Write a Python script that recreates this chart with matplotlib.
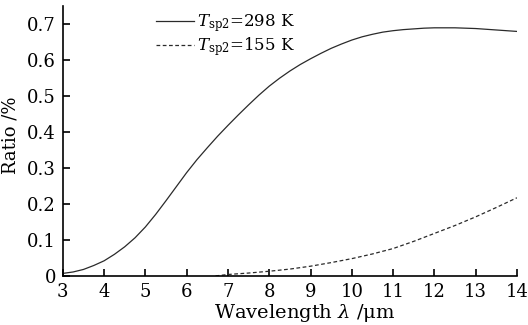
import matplotlib
matplotlib.use('Agg')
import matplotlib.pyplot as plt

# ratio curves for the two temperatures
wl_298 = [3.0, 3.25, 3.5, 3.75, 4.0, 4.25, 4.5, 4.75, 5.0, 5.25, 5.5, 5.75,
          6.0, 6.25, 6.5, 6.75, 7.0, 7.25, 7.5, 7.75, 8.0, 8.25, 8.5, 8.75,
          9.0, 9.25, 9.5, 9.75, 10.0, 10.25, 10.5, 10.75, 11.0, 11.25, 11.5,
          11.75, 12.0, 12.25, 12.5, 12.75, 13.0, 13.25, 13.5, 13.75, 14.0]
ratio_298 = [0.007, 0.011, 0.018, 0.029, 0.042, 0.060, 0.081, 0.106, 0.136,
             0.171, 0.209, 0.248, 0.287, 0.323, 0.356, 0.388, 0.418, 0.447,
             0.475, 0.502, 0.527, 0.549, 0.569, 0.587, 0.603, 0.618, 0.632,
             0.644, 0.655, 0.664, 0.671, 0.677, 0.681, 0.684, 0.686, 0.688,
             0.689, 0.689, 0.689, 0.688, 0.687, 0.685, 0.683, 0.681, 0.679]

wl_155 = [6.7, 7, 7.5, 8, 8.5, 9, 9.5, 10, 10.5, 11, 11.5, 12, 12.5, 13,
          13.5, 14]
ratio_155 = [0.0, 0.004, 0.008, 0.013, 0.019, 0.027, 0.037, 0.048, 0.061,
             0.076, 0.096, 0.118, 0.140, 0.164, 0.190, 0.217]

x_ticks = [3, 4, 5, 6, 7, 8, 9, 10, 11, 12, 13, 14]
y_ticks = [0, 0.1, 0.2, 0.3, 0.4, 0.5, 0.6, 0.7]
y_ticklabels = ['0', '0.1', '0.2', '0.3', '0.4', '0.5', '0.6', '0.7']

plt.rcParams['font.family'] = 'DejaVu Serif'
plt.rcParams['mathtext.fontset'] = 'dejavuserif'
plt.rcParams['font.size'] = 12

fig = plt.figure(figsize=(5.28, 3.25), dpi=100)
ax = fig.add_axes([0.119, 0.151, 0.860, 0.831])

ax.plot(wl_298, ratio_298, color='#2a2a2a', linewidth=0.9, linestyle='-',
        label=r'$T_{\mathrm{sp2}}$=298 K')
ax.plot(wl_155, ratio_155, color='#2a2a2a', linewidth=0.9, linestyle=(0, (3, 2)),
        label=r'$T_{\mathrm{sp2}}$=155 K')

ax.set_xlim(3, 14)
ax.set_ylim(0, 0.75)
ax.set_xticks(x_ticks)
ax.set_yticks(y_ticks)
ax.set_yticklabels(y_ticklabels)

ax.spines['top'].set_visible(False)
ax.spines['right'].set_visible(False)
ax.spines['left'].set_linewidth(1.2)
ax.spines['bottom'].set_linewidth(1.2)
ax.tick_params(direction='in', length=5, width=1.2, labelsize=13)
ax.tick_params(axis='x', pad=5)
ax.tick_params(axis='y', pad=5)

ax.set_xlabel(r'Wavelength $\lambda$ /μm', fontsize=14)
ax.xaxis.set_label_coords(0.533, -0.095)
ax.set_ylabel('Ratio /%', fontsize=13)
ax.yaxis.set_label_coords(-0.095, 0.52)

ax.legend(loc='upper left', bbox_to_anchor=(0.19, 1.0), frameon=False,
          handlelength=2.3, handletextpad=0.2, labelspacing=0.05,
          borderaxespad=0)

fig.savefig('out.png', dpi=100)
